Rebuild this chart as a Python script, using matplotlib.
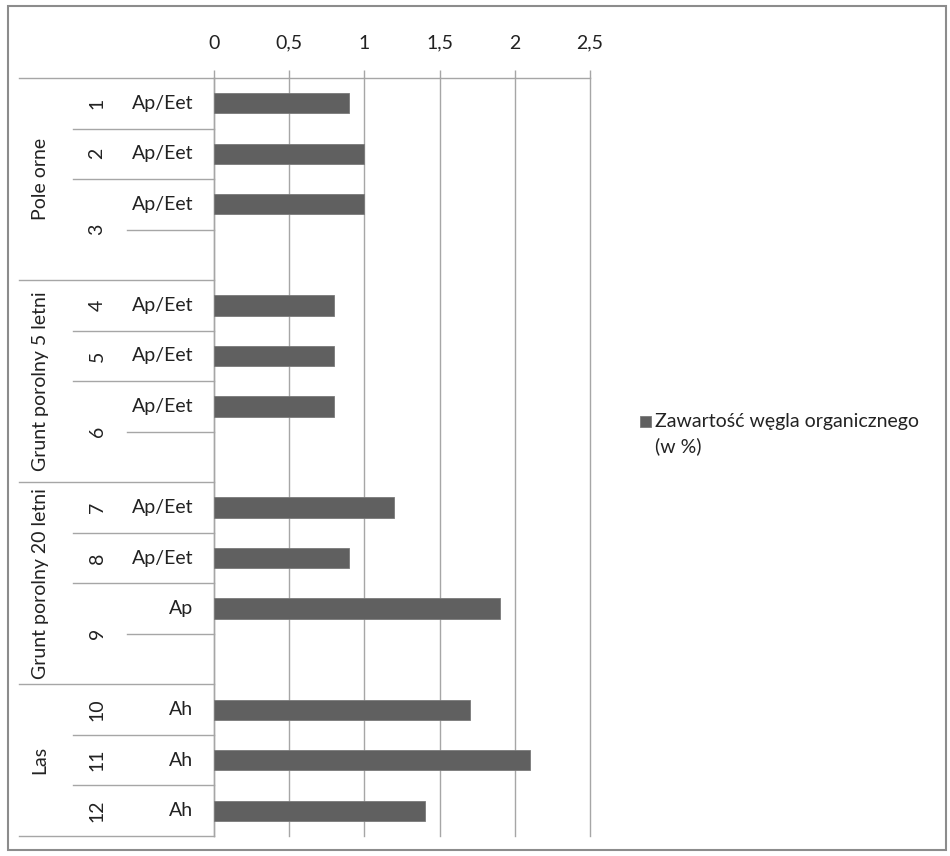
import numpy as np
import matplotlib
matplotlib.use("Agg")
import matplotlib.pyplot as plt
from matplotlib.patches import Rectangle
from matplotlib.transforms import blended_transform_factory

plt.rcParams['font.family'] = ['Lato', 'DejaVu Sans']

# one entry per category row (empty rows keep the profile block two rows tall)
row_group = (["Pole orne"] * 4 + ["Grunt porolny 5 letni"] * 4
             + ["Grunt porolny 20 letni"] * 4 + ["Las"] * 3)
row_profile = ["1", "2", "3", "3", "4", "5", "6", "6",
               "7", "8", "9", "9", "10", "11", "12"]
row_horizon = ["Ap/Eet", "Ap/Eet", "Ap/Eet", "", "Ap/Eet", "Ap/Eet", "Ap/Eet", "",
               "Ap/Eet", "Ap/Eet", "Ap", "", "Ah", "Ah", "Ah"]
carbon = [0.9, 1.0, 1.0, np.nan, 0.8, 0.8, 0.8, np.nan,
          1.2, 0.9, 1.9, np.nan, 1.7, 2.1, 1.4]
series_name = "Zawartość węgla organicznego\n(w %)"
x_ticks = [0, 0.5, 1, 1.5, 2, 2.5]

W, H = 950, 856
fig = plt.figure(figsize=(W / 100, H / 100), dpi=100)
ax = fig.add_axes([214 / W, (H - 836) / H, 376 / W, 758 / H])

line_c = "#a6a6a6"
text_c = "#222222"
bar_c = "#606060"
fs = 14

n = len(row_horizon)
ypos = np.arange(n)
ax.barh(ypos, carbon, height=0.4, color=bar_c, edgecolor="#7a7a7a", linewidth=0.6, zorder=3)

ax.set_xlim(0, 2.5)
ax.set_ylim(n - 0.5, -0.5)
ax.xaxis.tick_top()
ax.set_xticks(x_ticks)
ax.set_xticklabels([f"{t:g}".replace(".", ",") for t in x_ticks], fontsize=fs, color=text_c)
ax.tick_params(axis="x", length=6, width=1, color=line_c, pad=13)
ax.set_yticks([])
ax.grid(axis="x", color=line_c, linewidth=1, zorder=0)
for gl in ax.get_xgridlines():
    gl.set_clip_on(False)
for side in ["right", "bottom"]:
    ax.spines[side].set_visible(False)
for side in ["left", "top"]:
    ax.spines[side].set_color(line_c)
    ax.spines[side].set_linewidth(1)

# multi-level category axis drawn left of the plot area
tr = blended_transform_factory(ax.transAxes, ax.transData)
x_group = (19 - 214) / 376
x_prof = (73 - 214) / 376
x_hor = (127 - 214) / 376


def hline(y, x0):
    ax.plot([x0, 0], [y, y], transform=tr, color=line_c, lw=1, clip_on=False)


hline(-0.5, x_group)
hline(n - 0.5, x_group)
for i in range(n - 1):
    y = i + 0.5
    if row_group[i] != row_group[i + 1]:
        hline(y, x_group)
    elif row_profile[i] != row_profile[i + 1]:
        hline(y, x_prof)
    else:
        hline(y, x_hor)


def spans(labels):
    out = []
    start = 0
    for i in range(1, n + 1):
        if i == n or labels[i] != labels[start]:
            out.append((labels[start], (start + i - 1) / 2))
            start = i
    return out


for name, yc in spans(row_group):
    ax.text((40 - 214) / 376, yc, name, transform=tr, rotation=90,
            ha="center", va="center", fontsize=fs, color=text_c)
for name, yc in spans(row_profile):
    ax.text((97 - 214) / 376, yc, name, transform=tr, rotation=90,
            ha="center", va="center", fontsize=fs, color=text_c)
for i, name in enumerate(row_horizon):
    if name:
        ax.text((193 - 214) / 376, i, name, transform=tr,
                ha="right", va="center", fontsize=fs, color=text_c)

# legend: swatch plus two text lines
fig.patches.append(Rectangle((640 / W, (H - 427) / H), 11 / W, 11 / H,
                             transform=fig.transFigure, facecolor=bar_c,
                             edgecolor="#7a7a7a", lw=0.6))
for k, line in enumerate(series_name.split("\n")):
    fig.text(655 / W, (H - 427 - 25 * k) / H, line, ha="left", va="baseline",
             fontsize=fs, color=text_c)

# chart frame
fig.patches.append(Rectangle((8 / W, (H - 850) / H), 938 / W, 844 / H,
                             transform=fig.transFigure, fill=False,
                             edgecolor="#8c8c8c", lw=1.5))

fig.savefig("out.png", dpi=100)
